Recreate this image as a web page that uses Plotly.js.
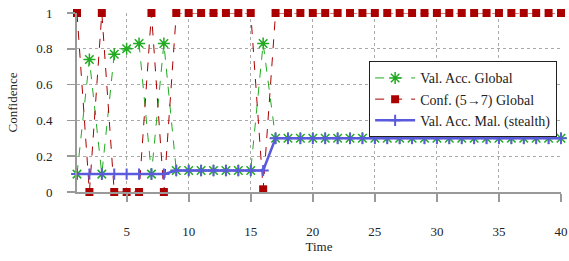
<!DOCTYPE html>
<html><head><meta charset="utf-8">
<script src="https://cdn.plot.ly/plotly-3.0.1.min.js"></script>
<style>body{margin:0;padding:0;background:#fff}#c{width:569px;height:261px}</style>
</head><body><div id="c"></div>
<script>
const time = Array.from({length: 40}, (_, i) => i + 1);
const valAccGlobal = [0.1,0.74,0.1,0.77,0.8,0.83,0.1,0.83,0.12,0.12,0.12,0.12,0.12,0.12,0.12,0.83,
  0.3,0.3,0.3,0.3,0.3,0.3,0.3,0.3,0.3,0.3,0.3,0.3,0.3,0.3,0.3,0.3,0.3,0.3,0.3,0.3,0.3,0.3,0.3,0.3];
const confGlobal = [1,0,1,0,0,0,1,0,1,1,1,1,1,1,1,0.015,
  1,1,1,1,1,1,1,1,1,1,1,1,1,1,1,1,1,1,1,1,1,1,1,1];
const valAccMal = [0.1,0.1,0.1,0.1,0.1,0.1,0.1,0.1,0.12,0.12,0.12,0.12,0.12,0.12,0.12,0.12,
  0.3,0.3,0.3,0.3,0.3,0.3,0.3,0.3,0.3,0.3,0.3,0.3,0.3,0.3,0.3,0.3,0.3,0.3,0.3,0.3,0.3,0.3,0.3,0.3];
const xTicks = [5,10,15,20,25,30,35,40];
const yTicks = [0,0.2,0.4,0.6,0.8,1];
const yTickText = ['0','0.2','0.4','0.6','0.8','1'];

const font = 'Liberation Serif, DejaVu Serif, serif';
const traces = [
  {x: time, y: valAccGlobal, name: 'Val. Acc. Global', mode: 'lines+markers',
   line: {color: '#22aa22', width: 1, dash: 'dash'},
   marker: {symbol: 'asterisk-open', size: 10, line: {color: '#22aa22', width: 1.5}}},
  {x: time, y: confGlobal, name: 'Conf. (5→7) Global', mode: 'lines+markers',
   line: {color: '#aa0000', width: 1, dash: 'dash'},
   marker: {symbol: 'square', size: 8, color: '#aa0000'}},
  {x: time, y: valAccMal, name: 'Val. Acc. Mal. (stealth)', mode: 'lines+markers',
   line: {color: '#5a5adc', width: 2.5},
   marker: {symbol: 'cross-thin-open', size: 8, line: {color: '#5a5adc', width: 2}}}
];
const layout = {
  width: 569, height: 261,
  margin: {l: 77, r: 8, t: 13, b: 69},
  paper_bgcolor: '#fff', plot_bgcolor: '#fff',
  font: {family: font, size: 13, color: '#222'},
  showlegend: true,
  legend: {x: 0.992, xanchor: 'right', y: 0.73, yanchor: 'top',
    bordercolor: '#222', borderwidth: 1, bgcolor: '#fff',
    font: {family: font, size: 14, color: '#222'}, tracegroupgap: 0, itemwidth: 40},
  xaxis: {range: [1, 40], tickvals: xTicks, ticktext: xTicks.map(String),
    showgrid: true, gridcolor: '#aaa', griddash: 'dot', gridwidth: 1,
    showline: true, linecolor: '#999', linewidth: 2, zeroline: false,
    ticks: 'outside', ticklen: 8, tickcolor: '#999', tickwidth: 2,
    ticklabelstandoff: 18,
    tickfont: {family: font, size: 13, color: '#222'},
    title: {text: 'Time', font: {family: font, size: 13, color: '#222'}, standoff: 4}},
  yaxis: {range: [0, 1], tickvals: yTicks, ticktext: yTickText,
    showgrid: true, gridcolor: '#aaa', griddash: 'dot', gridwidth: 1,
    showline: true, linecolor: '#999', linewidth: 2, zeroline: false,
    ticks: 'outside', ticklen: 8, tickcolor: '#999', tickwidth: 1.5,
    ticklabelstandoff: 12,
    tickfont: {family: font, size: 13, color: '#222'},
    title: {text: 'Confidence', font: {family: font, size: 13, color: '#222'}, standoff: 16}}
};
traces.forEach(t => t.cliponaxis = false);
Plotly.newPlot('c', traces, layout, {staticPlot: true, displayModeBar: false});
</script></body></html>
